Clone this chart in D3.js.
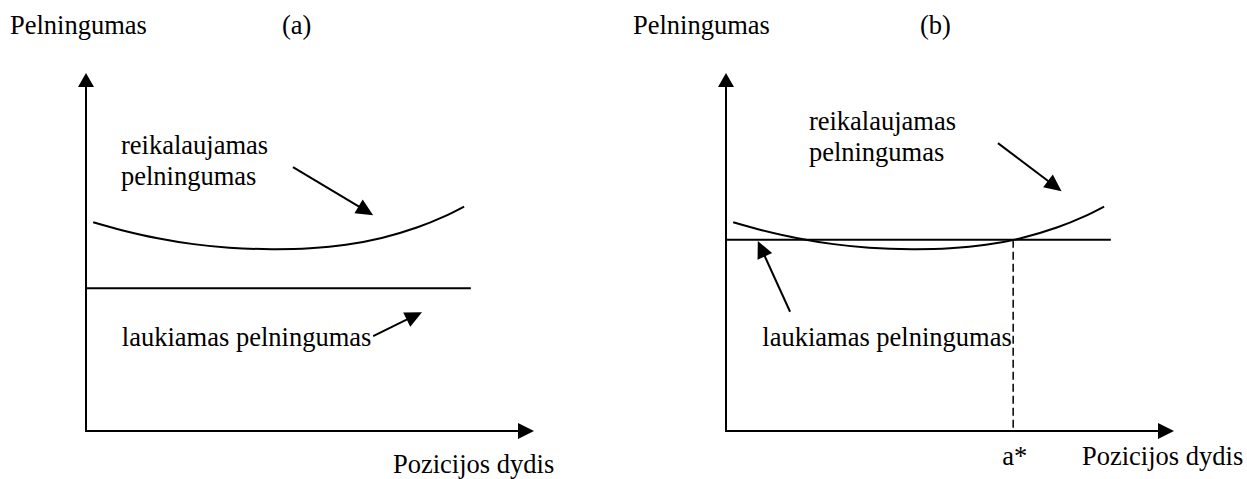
<!DOCTYPE html>
<html>
<head>
<meta charset="utf-8">
<script src="https://cdn.jsdelivr.net/npm/d3@7"></script>
<style>
  html, body { margin: 0; padding: 0; background: #fff; }
  svg { display: block; }
</style>
</head>
<body>
<script>
// ---------- data (abstract chart units: x 0..100 along axis, y 0..100 up axis) ----------
const panelNames = ["(a)", "(b)"];
const yAxisTitle = "Pelningumas";
const xAxisTitle = "Pozicijos dydis";
const requiredLabel = ["reikalaujamas", "pelningumas"];
const expectedLabel = "laukiamas pelningumas";
const optimumLabel = "a*";

// required-return curve (same in both panels)
const curveX = [1.6, 8, 16, 24, 32, 41.5, 50, 58, 66, 74, 80, 84.4];
const curveY = [58.3, 56.1, 53.85, 52.2, 51.2, 50.8, 51.05, 52.0, 53.9, 56.9, 59.95, 62.7];

// expected-return flat line level per panel, and its extent
const flatLevel = [39.9, 53.4];
const flatStart = 0;
const flatEnd = 85.9;

// optimum position a* (panel b)
const aStar = 64.1;

// annotation arrows [x1, y1, x2(tip), y2(tip)] per panel
const reqArrow = [[46.2, 73.7, 64.1, 60.3], [60.7, 80.4, 74.9, 67.0]];
const expArrow = [[64.1, 26.5, 75.0, 33.2], [14.3, 33.3, 7.1, 53.1]];

// label anchor points (left, baseline) per panel
const reqLabelPos = [[7.8, 77.5], [18.5, 84.2]];
const expLabelPos = [[8.0, 23.7], [8.1, 23.7]];

// ---------- layout ----------
const W = 1247, H = 479;
const FONT = "'Liberation Serif', Tinos, 'Times New Roman', 'DejaVu Serif', serif";
const panels = [
  { x0: 86, x1: 534, titleX: 10, nameX: 282, xTitleX: 393, xTitleY: 473 },
  { x0: 726, x1: 1174, titleX: 633, nameX: 920, xTitleX: 1082, xTitleY: 465 }
];
const yBottom = 431, yTop = 73;
const titleBaseline = 34;
const lineGap = 31.5;

const svg = d3.select("body").append("svg")
  .attr("width", W).attr("height", H);

function label(g, px, py, str) {
  g.append("text").attr("x", px).attr("y", py)
    .attr("font-family", FONT).attr("font-size", 26.5).attr("fill", "#000")
    .text(str);
}

function arrow(g, x1, y1, x2, y2, len, hw, sw) {
  const ang = Math.atan2(y2 - y1, x2 - x1);
  const bx = x2 - len * Math.cos(ang), by = y2 - len * Math.sin(ang);
  g.append("line")
    .attr("x1", x1).attr("y1", y1).attr("x2", bx + Math.cos(ang) * 1).attr("y2", by + Math.sin(ang) * 1)
    .attr("stroke", "#000").attr("stroke-width", sw);
  const px = -Math.sin(ang), py = Math.cos(ang);
  g.append("path")
    .attr("d", `M${x2},${y2}L${bx + px * hw},${by + py * hw}L${bx - px * hw},${by - py * hw}Z`)
    .attr("fill", "#000");
}

panels.forEach((p, i) => {
  const g = svg.append("g");
  const x = d3.scaleLinear().domain([0, 100]).range([p.x0, p.x1]);
  const y = d3.scaleLinear().domain([0, 100]).range([yBottom, yTop]);

  // titles
  label(g, p.titleX, titleBaseline, yAxisTitle);
  label(g, p.nameX, titleBaseline, panelNames[i]);

  // axes with arrowheads
  g.append("line").attr("x1", x(0)).attr("y1", y(0)).attr("x2", x(0)).attr("y2", y(100) + 12)
    .attr("stroke", "#000").attr("stroke-width", 2);
  g.append("path")
    .attr("d", `M${x(0)},${y(100)}L${x(0) + 8},${y(100) + 14}L${x(0) - 8},${y(100) + 14}Z`)
    .attr("fill", "#000");
  g.append("line").attr("x1", x(0) - 1).attr("y1", y(0)).attr("x2", x(100) - 14).attr("y2", y(0))
    .attr("stroke", "#000").attr("stroke-width", 2);
  g.append("path")
    .attr("d", `M${x(100)},${y(0)}L${x(100) - 16},${y(0) - 8}L${x(100) - 16},${y(0) + 8}Z`)
    .attr("fill", "#000");

  // x-axis title
  label(g, p.xTitleX, p.xTitleY, xAxisTitle);

  // expected return (flat line)
  g.append("line")
    .attr("x1", x(flatStart)).attr("y1", y(flatLevel[i]))
    .attr("x2", x(flatEnd)).attr("y2", y(flatLevel[i]))
    .attr("stroke", "#000").attr("stroke-width", 2);

  // required return curve
  const pts = curveX.map((d, k) => [d, curveY[k]]);
  g.append("path")
    .attr("d", d3.line().x(d => x(d[0])).y(d => y(d[1])).curve(d3.curveCatmullRom)(pts))
    .attr("fill", "none").attr("stroke", "#000").attr("stroke-width", 2);

  // labels
  const rl = reqLabelPos[i];
  label(g, x(rl[0]), y(rl[1]), requiredLabel[0]);
  label(g, x(rl[0]), y(rl[1]) + lineGap, requiredLabel[1]);
  const el = expLabelPos[i];
  label(g, x(el[0]), y(el[1]), expectedLabel);

  // annotation arrows
  const ra = reqArrow[i], ea = expArrow[i];
  arrow(g, x(ra[0]), y(ra[1]), x(ra[2]), y(ra[3]), 17, 8, 2);
  arrow(g, x(ea[0]), y(ea[1]), x(ea[2]), y(ea[3]), 17, 8, 2);

  if (i === 1) {
    g.append("line")
      .attr("x1", x(aStar)).attr("y1", y(flatLevel[i]))
      .attr("x2", x(aStar)).attr("y2", y(0))
      .attr("stroke", "#000").attr("stroke-width", 1.5)
      .attr("stroke-dasharray", "8,4");
    label(g, x(aStar) - 11, p.xTitleY, optimumLabel);
  }
});
</script>
</body>
</html>
